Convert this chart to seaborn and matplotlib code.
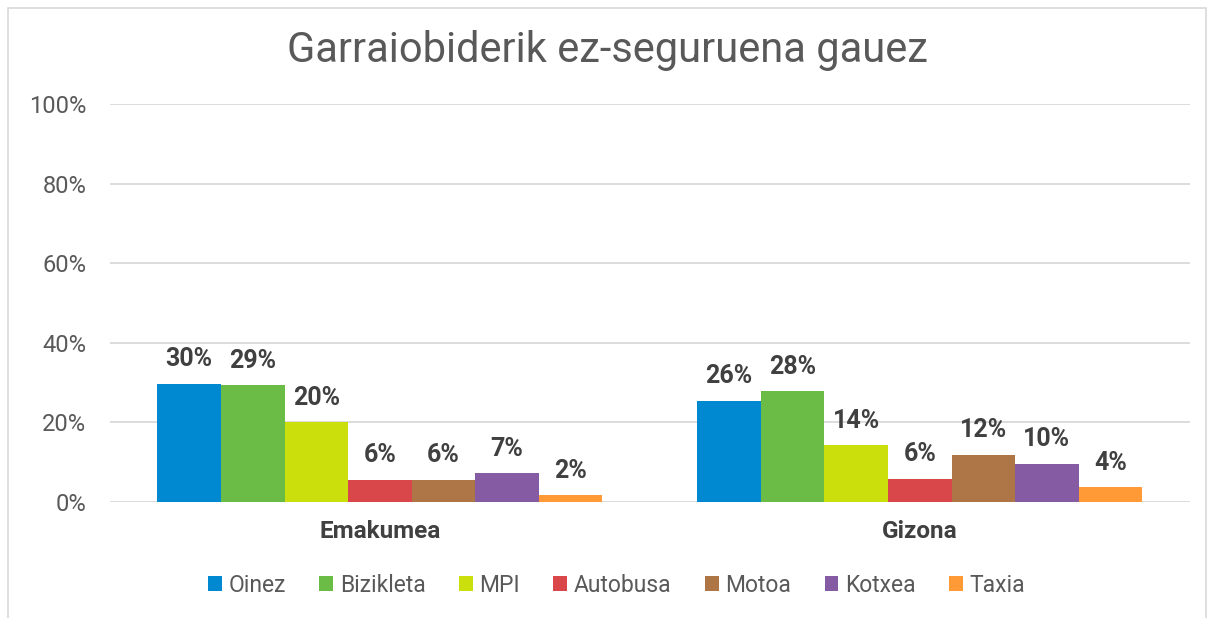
import pandas as pd
import matplotlib.pyplot as plt
import seaborn as sns
from matplotlib.patches import Rectangle

# Data
groups = ['Emakumea', 'Gizona']
modes = ['Oinez', 'Bizikleta', 'MPI', 'Autobusa', 'Motoa', 'Kotxea', 'Taxia']
emakumea = [29.7, 29.3, 20.1, 5.6, 5.6, 7.2, 1.7]
gizona = [25.5, 27.8, 14.2, 5.9, 11.9, 9.6, 3.7]
colors = ['#0088D1', '#6BBB47', '#CADF0C', '#D9474B', '#AE7546', '#855BA3', '#FF9A37']
y_ticks = [0, 20, 40, 60, 80, 100]

rows = []
for g, vals in zip(groups, [emakumea, gizona]):
    for m, v in zip(modes, vals):
        rows.append({'Taldea': g, 'Garraiobidea': m, 'Balioa': v})
data = pd.DataFrame(rows)

sns.set_style('white')
plt.rcParams['font.family'] = ['Roboto', 'DejaVu Sans']

fig = plt.figure(figsize=(12.14, 6.18), dpi=100)
ax = fig.add_axes([0.0906, 0.1877, 0.8894, 0.644])

sns.barplot(data=data, x='Taldea', y='Balioa', hue='Garraiobidea',
            hue_order=modes, palette=colors, width=0.824, gap=0,
            saturation=1, ax=ax, legend=True, zorder=3, linewidth=0)

for cont in ax.containers:
    labels = ['{:.0f}%'.format(v) for v in cont.datavalues]
    ax.bar_label(cont, labels=labels, padding=9, fontsize=18,
                 fontweight='bold', color='#404040')

ax.set_ylim(0, 100)
ax.set_xlim(-0.5, 1.5)
ax.set_yticks(y_ticks)
ax.set_yticklabels(['{}%'.format(t) for t in y_ticks])
ax.yaxis.grid(True, color='#D9D9D9', linewidth=1.3, zorder=0)
ax.set_axisbelow(True)
ax.tick_params(axis='y', length=0, pad=17, labelsize=17, labelcolor='#595959')
ax.tick_params(axis='x', length=0, pad=13, labelsize=17.5, labelcolor='#404040')
for lab in ax.get_xticklabels():
    lab.set_fontweight('bold')
ax.set_xlabel('')
ax.set_ylabel('')
for s in ax.spines.values():
    s.set_visible(False)

# legend centred on the figure, not the axes
handles, labels = ax.get_legend_handles_labels()
ax.get_legend().remove()
fig.legend(handles, labels, loc='center', bbox_to_anchor=(0.508, 0.053), ncol=7,
           frameon=False, fontsize=16.5, handlelength=0.6, handleheight=0.6,
           handletextpad=0.3, columnspacing=1.45, labelcolor='#595959')

fig.text(0.5, 0.918, 'Garraiobiderik ez-seguruena gauez', ha='center', va='center',
         fontsize=30, color='#595959')

fig.patches.append(Rectangle((0.007, -0.01), 0.986, 0.997, transform=fig.transFigure,
                             fill=False, edgecolor='#D9D9D9', linewidth=1.2))

plt.savefig('out.png', dpi=100)
